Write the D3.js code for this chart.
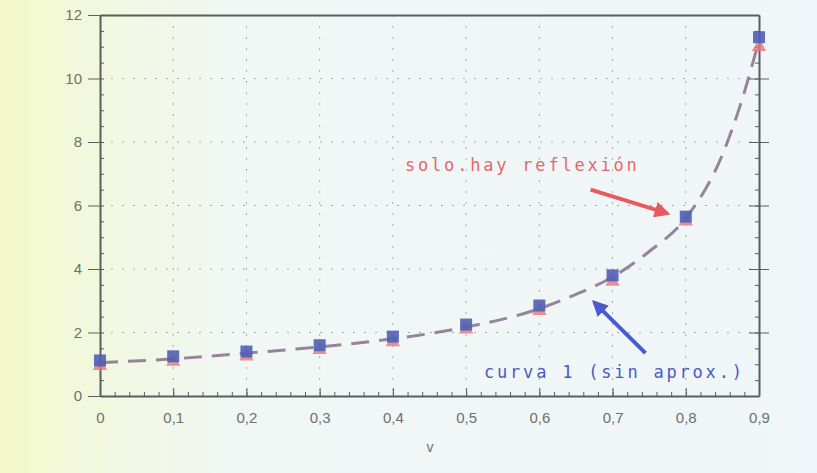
<!DOCTYPE html>
<html>
<head>
<meta charset="utf-8">
<script src="https://cdnjs.cloudflare.com/ajax/libs/d3/7.8.5/d3.min.js"></script>
<style>
  body { margin: 0; }
  svg { display: block; }
</style>
</head>
<body>
<div id="chart"></div>
<script>
// values
var vValues = [0, 0.1, 0.2, 0.3, 0.4, 0.5, 0.6, 0.7, 0.8, 0.9];
var curva1 = [1.12, 1.25, 1.4, 1.6, 1.87, 2.25, 2.85, 3.8, 5.65, 11.3];      // blue squares
var reflexion = [0.95, 1.08, 1.25, 1.45, 1.7, 2.1, 2.68, 3.6, 5.5, 11.0];    // red triangles
var dashV = [0, 0.1, 0.2, 0.3, 0.4, 0.5, 0.6, 0.65, 0.7, 0.75, 0.8, 0.85, 0.875, 0.9];
var dashY = [1.05, 1.17, 1.35, 1.55, 1.8, 2.17, 2.75, 3.2, 3.75, 4.55, 5.6, 7.6, 9.2, 11.2];
var xTicks = [0, 0.1, 0.2, 0.3, 0.4, 0.5, 0.6, 0.7, 0.8, 0.9];
var yTicks = [0, 2, 4, 6, 8, 10, 12];

var width = 817, height = 473;
var mLeft = 100, mRight = 759, mTop = 15, mBottom = 396;

var svg = d3.select("#chart").append("svg")
  .attr("width", width).attr("height", height);

var defs = svg.append("defs");
var grad = defs.append("linearGradient").attr("id", "bg")
  .attr("x1", "0").attr("x2", "1").attr("y1", "0").attr("y2", "0");
grad.append("stop").attr("offset", "0").attr("stop-color", "#f3f9c8");
grad.append("stop").attr("offset", "0.1").attr("stop-color", "#f2f8dc");
grad.append("stop").attr("offset", "0.28").attr("stop-color", "#f1f7f4");
grad.append("stop").attr("offset", "1").attr("stop-color", "#f0f6f9");

svg.append("rect").attr("width", width).attr("height", height).attr("fill", "url(#bg)");

var x = d3.scaleLinear().domain([0, 0.9]).range([mLeft, mRight]);
var y = d3.scaleLinear().domain([0, 12]).range([mBottom, mTop]);

var fmt = function(d){ return String(d).replace(".", ","); };

// dotted grid
var grid = svg.append("g").attr("stroke", "#a4aaaa").attr("stroke-width", 1)
  .attr("stroke-dasharray", "2,9");
grid.selectAll(".gx").data(xTicks.slice(1, -1)).enter().append("line")
  .attr("x1", function(d){ return x(d); }).attr("x2", function(d){ return x(d); })
  .attr("y1", mTop).attr("y2", mBottom);
grid.selectAll(".gy").data(yTicks.slice(1, -1)).enter().append("line")
  .attr("x1", mLeft).attr("x2", mRight)
  .attr("y1", function(d){ return y(d); }).attr("y2", function(d){ return y(d); });

// axes
var axisColor = "#5a5e5e";
var xMinor = d3.range(0, 0.9001, 0.02);
var yMinor = d3.range(0, 12.001, 0.5);

function helper(g) { g.select(".domain").remove(); }

// minor / inner ticks
svg.append("g").attr("transform", "translate(0," + mBottom + ")")
  .call(d3.axisBottom(x).tickValues(xMinor).tickSize(-4).tickFormat("")).call(helper);
svg.append("g").attr("transform", "translate(0," + (mBottom - 8) + ")")
  .call(d3.axisBottom(x).tickValues(xTicks).tickSize(8).tickFormat("")).call(helper);
svg.append("g").attr("transform", "translate(" + mLeft + ",0)")
  .call(d3.axisLeft(y).tickValues(yMinor).tickSize(-4).tickFormat("")).call(helper);
svg.append("g").attr("transform", "translate(" + mRight + ",0)")
  .call(d3.axisRight(y).tickValues(yMinor).tickSize(-4).tickFormat("")).call(helper);
svg.append("g").attr("transform", "translate(" + (mRight - 10) + ",0)")
  .call(d3.axisRight(y).tickValues(yTicks.slice(1, -1)).tickSize(20).tickFormat("")).call(helper);

var gxb = svg.append("g").attr("transform", "translate(0," + mBottom + ")")
  .call(d3.axisBottom(x).tickValues(xTicks).tickFormat(fmt).tickSize(0).tickSizeOuter(0).tickPadding(16));
var gxt = svg.append("g").attr("transform", "translate(0," + mTop + ")")
  .call(d3.axisTop(x).tickValues([]).tickSizeOuter(0));
var gyl = svg.append("g").attr("transform", "translate(" + mLeft + ",0)")
  .call(d3.axisLeft(y).tickValues(yTicks).tickSize(12).tickSizeOuter(0).tickPadding(6));
var gyr = svg.append("g").attr("transform", "translate(" + mRight + ",0)")
  .call(d3.axisRight(y).tickValues([]).tickSizeOuter(0));

svg.selectAll(".domain").attr("stroke", axisColor).attr("stroke-width", 2);
svg.selectAll(".tick line").attr("stroke", axisColor).attr("stroke-width", 1);
svg.selectAll(".tick text").attr("fill", "#6c7070")
  .style("font-family", "'Liberation Sans', Arial, sans-serif").style("font-size", "15px");

// dashed curve
var line = d3.line().x(function(d){ return x(d[0]); }).y(function(d){ return y(d[1]); })
  .curve(d3.curveMonotoneX);
svg.append("path").datum(d3.zip(dashV, dashY))
  .attr("d", line).attr("fill", "none")
  .attr("stroke", "#86708c").attr("stroke-width", 3).attr("stroke-dasharray", "18,10")
  .attr("opacity", 0.85);

// red triangles
var tri = d3.symbol().type(d3.symbolTriangle).size(90);
svg.append("g").selectAll("path").data(d3.zip(vValues, reflexion)).enter().append("path")
  .attr("d", tri)
  .attr("transform", function(d){ return "translate(" + x(d[0]) + "," + y(d[1]) + ")"; })
  .attr("fill", "#e7757a").attr("opacity", 0.8);

// blue squares
svg.append("g").selectAll("rect").data(d3.zip(vValues, curva1)).enter().append("rect")
  .attr("x", function(d){ return x(d[0]) - 6; })
  .attr("y", function(d){ return y(d[1]) - 6; })
  .attr("width", 12).attr("height", 12)
  .attr("fill", "#4f5fb4").attr("opacity", 0.9);

// axis title
svg.append("text").attr("x", 430).attr("y", 452).attr("text-anchor", "middle")
  .attr("fill", "#6c7070").style("font-family", "'Liberation Sans', Arial, sans-serif")
  .style("font-size", "14px").text("v");

// annotations
defs.append("marker").attr("id", "ar").attr("viewBox", "0 0 10 10").attr("refX", 8).attr("refY", 5)
  .attr("markerWidth", 4).attr("markerHeight", 4).attr("orient", "auto")
  .append("path").attr("d", "M0,0 L10,5 L0,10 z").attr("fill", "#e85a5f");
defs.append("marker").attr("id", "ab").attr("viewBox", "0 0 10 10").attr("refX", 8).attr("refY", 5)
  .attr("markerWidth", 4).attr("markerHeight", 4).attr("orient", "auto")
  .append("path").attr("d", "M0,0 L10,5 L0,10 z").attr("fill", "#4a5ad0");

svg.append("text").attr("x", 405).attr("y", 171)
  .attr("fill", "#e06a6a").style("font-family", "'DejaVu Sans Mono', monospace")
  .style("font-size", "17px").style("letter-spacing", "2.8px").text("solo.hay reflexión");
svg.append("line").attr("x1", x(0.67)).attr("y1", y(6.5)).attr("x2", x(0.775)).attr("y2", y(5.75))
  .attr("stroke", "#e85a5f").attr("stroke-width", 4).attr("marker-end", "url(#ar)");

svg.append("text").attr("x", 484).attr("y", 378)
  .attr("fill", "#4a5ac8").style("font-family", "'DejaVu Sans Mono', monospace")
  .style("font-size", "17px").style("letter-spacing", "2.8px").text("curva 1 (sin aprox.)");
svg.append("line").attr("x1", x(0.745)).attr("y1", y(1.35)).attr("x2", x(0.675)).attr("y2", y(2.95))
  .attr("stroke", "#4a5ad0").attr("stroke-width", 4).attr("marker-end", "url(#ab)");
</script>
</body>
</html>
